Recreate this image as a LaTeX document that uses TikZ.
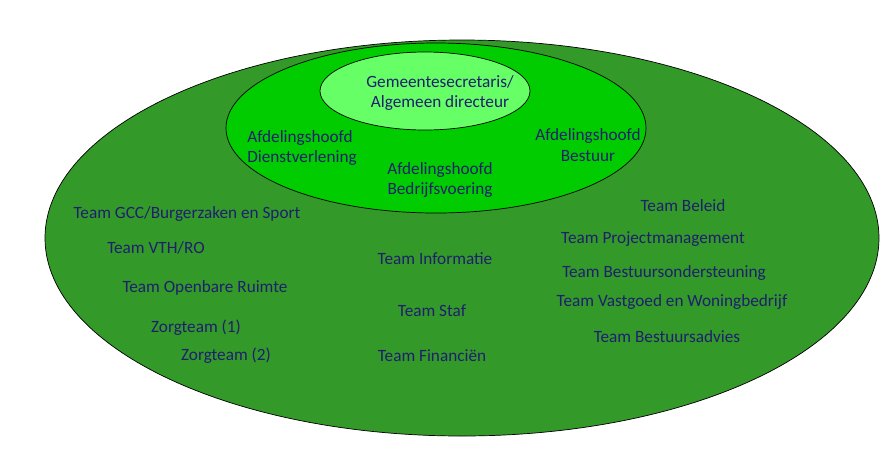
\documentclass[tikz,border=0pt]{standalone}
\usepackage{fontspec}
\setmainfont{Carlito}
\definecolor{outerg}{RGB}{51,153,40}
\definecolor{midg}{RGB}{0,204,0}
\definecolor{innerg}{RGB}{102,255,102}
\definecolor{txt}{RGB}{31,31,110}
\begin{document}
\begin{tikzpicture}[x=0.02cm,y=-0.02cm,
  lbl/.style={text=txt,font=\fontsize{9.8}{11.5}\selectfont,align=center,inner sep=0pt},
  ell/.style={draw=black,line width=0.4pt}]
\useasboundingbox (0,0) rectangle (886,461);
\fill[white] (0,0) rectangle (886,461);
\draw[ell,fill=outerg] (462,238) ellipse [x radius=417, y radius=198];
\draw[ell,fill=midg] (436,128) ellipse [x radius=210, y radius=85];
\draw[ell,fill=innerg] (425,91) ellipse [x radius=105, y radius=39];
\node[lbl] (gs) at (440,93) {Gemeentesecretaris/\\Algemeen directeur};
\node[lbl,align=left] (ad) at (302,148) {Afdelingshoofd\\Dienstverlening};
\node[lbl] (ab) at (440,180) {Afdelingshoofd\\Bedrijfsvoering};
\node[lbl] (abs) at (588,145) {Afdelingshoofd\\Bestuur};
\node[lbl] (t1) at (187,214) {Team GCC/Burgerzaken en Sport};
\node[lbl] (t2) at (156,248) {Team VTH/RO};
\node[lbl] (t3) at (205,288) {Team Openbare Ruimte};
\node[lbl] (t4) at (196,328) {Zorgteam (1)};
\node[lbl] (t5) at (226,356) {Zorgteam (2)};
\node[lbl] (m1) at (435,259) {Team Informatie};
\node[lbl] (m2) at (432,311) {Team Staf};
\node[lbl] (m3) at (432,356) {Team Financiën};
\node[lbl] (r1) at (683,206) {Team Beleid};
\node[lbl] (r2) at (653,239) {Team Projectmanagement};
\node[lbl] (r3) at (664,273) {Team Bestuursondersteuning};
\node[lbl] (r4) at (672,302) {Team Vastgoed en Woningbedrijf};
\node[lbl] (r5) at (667,337) {Team Bestuursadvies};
\end{tikzpicture}
\end{document}
